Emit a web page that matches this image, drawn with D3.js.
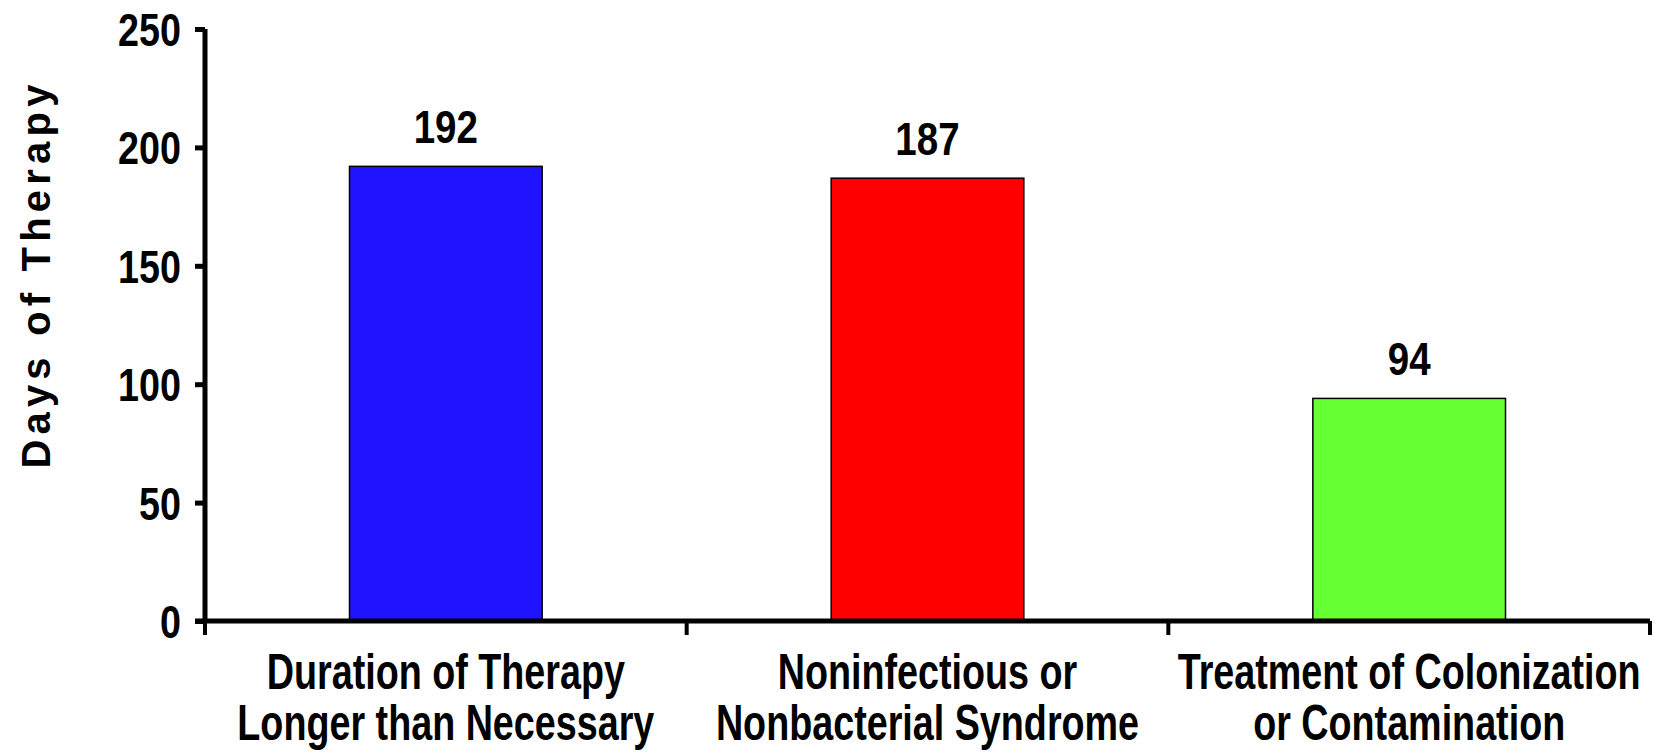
<!DOCTYPE html>
<html>
<head>
<meta charset="utf-8">
<script src="https://cdn.jsdelivr.net/npm/d3@7"></script>
<style>
  html, body { margin: 0; padding: 0; background: #fff; }
  svg { display: block; }
</style>
</head>
<body>
<svg id="chart" width="1653" height="756"></svg>
<script>
const categories = [
  ["Duration of Therapy", "Longer than Necessary"],
  ["Noninfectious or", "Nonbacterial Syndrome"],
  ["Treatment of Colonization", "or Contamination"]
];
const values = [192, 187, 94];
const barColors = ["#2014FF", "#FF0000", "#66FF33"];
const yTicks = [0, 50, 100, 150, 200, 250];
const yTitle = "Days of Therapy";

const W = 1653, H = 756;
const margin = { left: 205, right: 3, top: 29, bottom: 135 };
const svg = d3.select("#chart");
const narrow = "'Liberation Sans Narrow', 'Arial Narrow', 'Liberation Sans', Arial, sans-serif";

const x = d3.scaleBand()
  .domain(d3.range(values.length))
  .range([margin.left, W - margin.right])
  .paddingInner(0.6).paddingOuter(0.3);

const y = d3.scaleLinear().domain([0, 250]).range([H - margin.bottom, margin.top]);

// Bars
svg.append("g").selectAll("rect")
  .data(values)
  .join("rect")
  .attr("x", (d, i) => x(i))
  .attr("y", d => y(d))
  .attr("width", x.bandwidth())
  .attr("height", d => y(0) - y(d))
  .attr("fill", (d, i) => barColors[i])
  .attr("stroke", "#000")
  .attr("stroke-width", 1.5);

// Value labels
svg.append("g").selectAll("text")
  .data(values)
  .join("text")
  .attr("x", (d, i) => x(i) + x.bandwidth() / 2)
  .attr("y", d => y(d) - 23)
  .attr("text-anchor", "middle")
  .attr("font-family", narrow)
  .attr("font-weight", "bold")
  .attr("font-size", 47)
  .attr("class", "narrowtxt")
  .text(d => d);

// Y axis
const yAxis = d3.axisLeft(y).tickValues(yTicks).tickSize(10).tickPadding(14);
const gy = svg.append("g").attr("transform", `translate(${margin.left},0)`).call(yAxis);
gy.select(".domain").attr("stroke", "#000").attr("stroke-width", 5)
  .attr("d", `M0,${y(250)}V${y(0)}`);
gy.selectAll(".tick line").attr("stroke", "#000").attr("stroke-width", 5);
gy.selectAll(".tick text")
  .attr("font-family", narrow).attr("font-weight", "bold").attr("font-size", 46)
  .attr("fill", "#000").attr("dy", "0.36em").attr("class", "narrowtxt");

// X axis
const xEdge = d3.scaleLinear().domain([0, values.length]).range([margin.left, W - margin.right]);
const gx = svg.append("g").attr("transform", `translate(0,${y(0)})`);
gx.append("line").attr("x1", margin.left - 10).attr("x2", W - margin.right)
  .attr("stroke", "#000").attr("stroke-width", 5);
gx.selectAll("line.tk").data(d3.range(values.length + 1)).join("line")
  .attr("class", "tk")
  .attr("x1", d => xEdge(d)).attr("x2", d => xEdge(d))
  .attr("y1", 0).attr("y2", 14)
  .attr("stroke", "#000").attr("stroke-width", 4);

// Y title
svg.append("text")
  .attr("transform", `translate(50,274) rotate(-90)`)
  .attr("text-anchor", "middle")
  .attr("font-family", "'Liberation Sans', Arial, sans-serif")
  .attr("font-weight", "bold")
  .attr("font-size", 40)
  .attr("letter-spacing", 5.2)
  .text(yTitle);

// Detect narrow font availability
const probe = svg.append("text").attr("font-family", narrow).attr("font-weight", "bold")
  .attr("font-size", 46).text("Longer than Necessary");
const pw = probe.node().getComputedTextLength();
probe.remove();
const hasNarrow = pw <= 440;
const sx = hasNarrow ? 1 : 0.82;

if (!hasNarrow) {
  svg.selectAll(".narrowtxt").each(function() {
    const el = d3.select(this);
    const cx = +el.attr("x") || 0;
    const prev = el.attr("transform") || "";
    el.attr("transform", `${prev} translate(${cx},0) scale(${sx},1) translate(${-cx},0)`);
  });
}

// Category labels (one text per line, horizontally condensed by transform)
const catG = svg.append("g");
categories.forEach((lines, i) => {
  const cx = x(i) + x.bandwidth() / 2;
  lines.forEach((line, j) => {
    catG.append("text")
      .attr("x", cx)
      .attr("y", 689 + j * 51)
      .attr("text-anchor", "middle")
      .attr("font-family", narrow)
      .attr("font-weight", "bold")
      .attr("font-size", 50)
      .attr("transform", `translate(${cx},0) scale(${sx * 0.92},1) translate(${-cx},0)`)
      .text(line);
  });
});
</script>
</body>
</html>
